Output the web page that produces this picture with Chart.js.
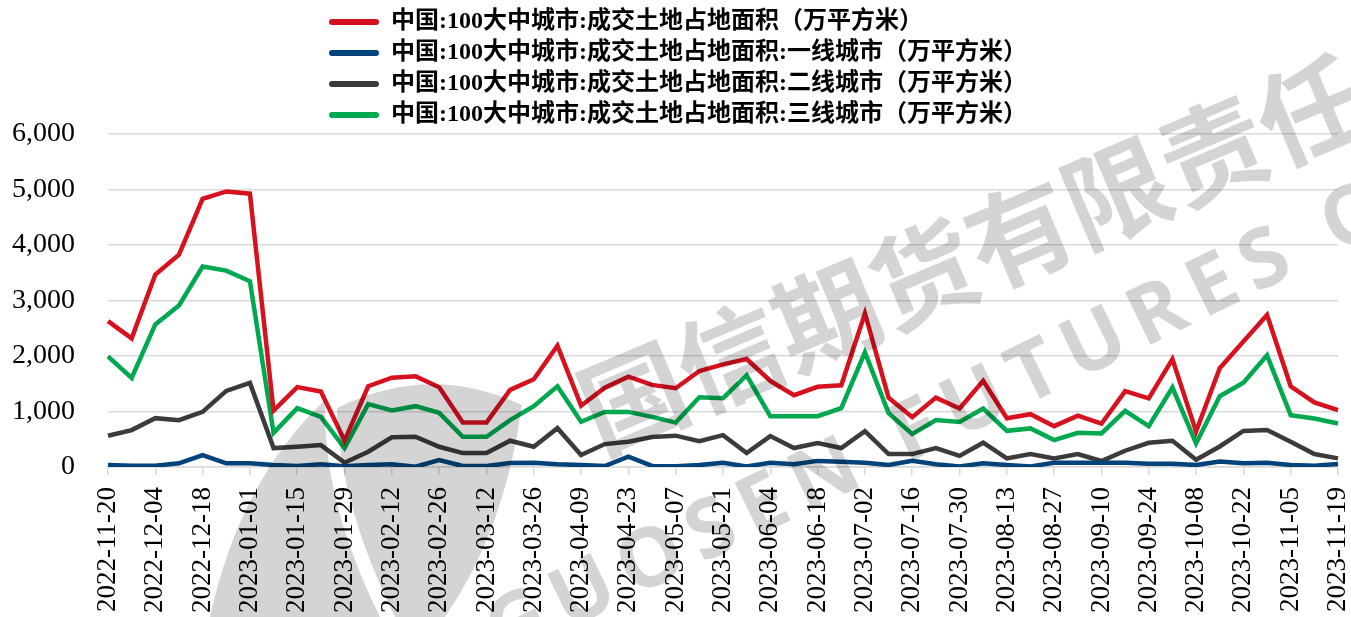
<!DOCTYPE html>
<html>
<head>
<meta charset="utf-8">
<script src="https://cdn.jsdelivr.net/npm/chart.js@4"></script>
<style>
  body { margin: 0; background: #fff; }
  #wrap { width: 1351px; height: 617px; }
</style>
</head>
<body>
<div id="wrap"><canvas id="landChart"></canvas></div>
<script>
// weekly dates
const weeks = [
  "2022-11-20", "2022-11-27", "2022-12-04", "2022-12-11", "2022-12-18", "2022-12-25",
  "2023-01-01", "2023-01-08", "2023-01-15", "2023-01-22", "2023-01-29",
  "2023-02-05", "2023-02-12", "2023-02-19", "2023-02-26",
  "2023-03-05", "2023-03-12", "2023-03-19", "2023-03-26",
  "2023-04-02", "2023-04-09", "2023-04-16", "2023-04-23", "2023-04-30",
  "2023-05-07", "2023-05-14", "2023-05-21", "2023-05-28",
  "2023-06-04", "2023-06-11", "2023-06-18", "2023-06-25",
  "2023-07-02", "2023-07-09", "2023-07-16", "2023-07-23", "2023-07-30",
  "2023-08-06", "2023-08-13", "2023-08-20", "2023-08-27",
  "2023-09-03", "2023-09-10", "2023-09-17", "2023-09-24",
  "2023-10-01", "2023-10-08", "2023-10-15", "2023-10-22", "2023-10-29",
  "2023-11-05", "2023-11-12", "2023-11-19"
];

// 成交土地占地面积 (万平方米)
const totalArea = [
  2628, 2317, 3467, 3826, 4832, 4965, 4925, 1015, 1440, 1360, 475,
  1455, 1610, 1635, 1437, 800, 800, 1390, 1581, 2185, 1105, 1430, 1628, 1480,
  1419, 1730, 1850, 1945, 1550, 1293, 1445, 1473, 2766, 1250, 898, 1250, 1055,
  1555, 878, 952, 736, 925, 780, 1368, 1236, 1945, 640, 1780, 2260, 2740,
  1455, 1165, 1024
];
const tier1Area = [
  36, 24, 24, 66, 215, 66, 66, 36, 20, 50, 14,
  36, 48, 5, 126, 18, 18, 72, 78, 48, 36, 18, 185, 20,
  15, 36, 78, 10, 78, 50, 110, 95, 78, 36, 110, 50, 10,
  66, 36, 10, 78, 78, 78, 78, 60, 60, 36, 100, 66, 78,
  36, 24, 54
];
const tier2Area = [
  562, 665, 880, 844, 993, 1371, 1515, 341, 365, 395, 78,
  275, 535, 545, 365, 251, 251, 473, 365, 700, 216, 413, 455, 539,
  565, 467, 575, 251, 557, 341, 431, 341, 647, 233, 233, 340, 200,
  437, 156, 233, 156, 233, 108, 293, 437, 473, 132, 370, 650, 665,
  455, 233, 156
];
const tier3Area = [
  1994, 1604, 2569, 2910, 3611, 3539, 3347, 616, 1060, 904, 341,
  1132, 1020, 1096, 976, 545, 545, 844, 1096, 1455, 814, 993, 993, 904,
  800, 1257, 1239, 1653, 916, 916, 916, 1060, 2066, 970, 593, 845, 810,
  1054, 652, 695, 485, 616, 605, 1011, 736, 1432, 425, 1275, 1520, 2012,
  934, 874, 784
];
const yTicks = [0, 1000, 2000, 3000, 4000, 5000, 6000];

const seriesNames = [
  "中国:100大中城市:成交土地占地面积（万平方米）",
  "中国:100大中城市:成交土地占地面积:一线城市（万平方米）",
  "中国:100大中城市:成交土地占地面积:二线城市（万平方米）",
  "中国:100大中城市:成交土地占地面积:三线城市（万平方米）"
];
const seriesColors = ["#d7121f", "#00437a", "#3d3a3b", "#00a84f"];

const serif = '"Liberation Serif", "Noto Sans CJK SC", serif';

function makeSet(i, data) {
  return {
    label: seriesNames[i],
    data: data,
    borderColor: seriesColors[i],
    backgroundColor: seriesColors[i],
    borderWidth: 4.5,
    pointRadius: 0,
    tension: 0,
    fill: false
  };
}

// watermark + legend placement (one series per row, starting at x≈329)
const extras = {
  id: "extras",
  afterLayout(chart) {
    chart.legend.left = 322;
    chart.legend.top = 3;
  },
  afterDatasetsDraw(chart) {
    const c = chart.ctx;
    const shade = "rgba(0,0,0,0.17)";
    // logo
    c.save();
    c.fillStyle = shade;
    c.beginPath();
    c.moveTo(210, 617);
    c.quadraticCurveTo(240, 480, 325, 400);
    c.quadraticCurveTo(322, 500, 380, 617);
    c.closePath();
    c.fill();
    c.beginPath();
    c.moveTo(337, 408);
    c.quadraticCurveTo(430, 362, 522, 405);
    c.quadraticCurveTo(505, 530, 445, 617);
    c.lineTo(395, 617);
    c.quadraticCurveTo(338, 500, 337, 408);
    c.closePath();
    c.fill();
    c.restore();
    // company text
    c.save();
    c.fillStyle = shade;
    c.translate(585, 418);
    c.rotate(-23 * Math.PI / 180);
    c.font = 'bold 105px "Noto Sans CJK SC"';
    c.fillText("国信期货有限责任公司", 0, 0);
    c.restore();
    c.save();
    c.fillStyle = shade;
    c.translate(492, 640);
    c.rotate(-26 * Math.PI / 180);
    c.font = 'bold 82px "Open Sans"';
    c.letterSpacing = "12px";
    c.fillText("GUOSEN FUTURES CO.,LTD", 0, 0);
    c.restore();
  }
};

const ctx = document.getElementById("landChart").getContext("2d");
const landChart = new Chart(ctx, {
  type: "line",
  data: {
    labels: weeks,
    datasets: [
      makeSet(0, totalArea),
      makeSet(1, tier1Area),
      makeSet(2, tier2Area),
      makeSet(3, tier3Area)
    ]
  },
  options: {
    responsive: true,
    maintainAspectRatio: false,
    animation: false,
    layout: { padding: { left: 10, right: 13, top: 31, bottom: 0 } },
    plugins: {
      tooltip: { enabled: false },
      legend: {
        position: "top",
        align: "start",
        labels: {
          color: "#000",
          font: { family: serif, size: 24, weight: "bold" },
          boxWidth: 50,
          boxHeight: 6,
          padding: 7,
          useBorderRadius: true,
          borderRadius: 3,
          generateLabels(chart) {
            return Chart.defaults.plugins.legend.labels.generateLabels(chart)
              .map(item => Object.assign(item, { lineWidth: 0 }));
          }
        }
      }
    },
    scales: {
      x: {
        afterFit(axis) {
          axis.paddingLeft = 0;
          axis.paddingRight = 0;
          axis.height = 150;
        },
        grid: {
          drawOnChartArea: false,
          tickLength: 8,
          lineWidth: 1.5,
          tickColor: c => (c.index % 2 ? "rgba(0,0,0,0)" : "#d9d9d9")
        },
        border: { display: true, color: "#d9d9d9", width: 1.5 },
        ticks: {
          autoSkip: false,
          minRotation: 90,
          maxRotation: 90,
          padding: 12,
          color: "#000",
          font: { family: serif, size: 27 },
          callback(value, index) {
            return index % 2 ? "" : weeks[index];
          }
        }
      },
      y: {
        min: yTicks[0],
        max: yTicks[yTicks.length - 1],
        afterBuildTicks(axis) {
          axis.ticks = yTicks.map(v => ({ value: v }));
        },
        afterFit(axis) {
          axis.width = 98;
        },
        grid: { color: "#d9d9d9", lineWidth: 1.5, drawTicks: false },
        border: { display: false },
        ticks: {
          padding: 33,
          color: "#000",
          font: { family: serif, size: 28 },
          callback: v => v.toLocaleString("en-US")
        }
      }
    }
  },
  plugins: [extras]
});
</script>
</body>
</html>
